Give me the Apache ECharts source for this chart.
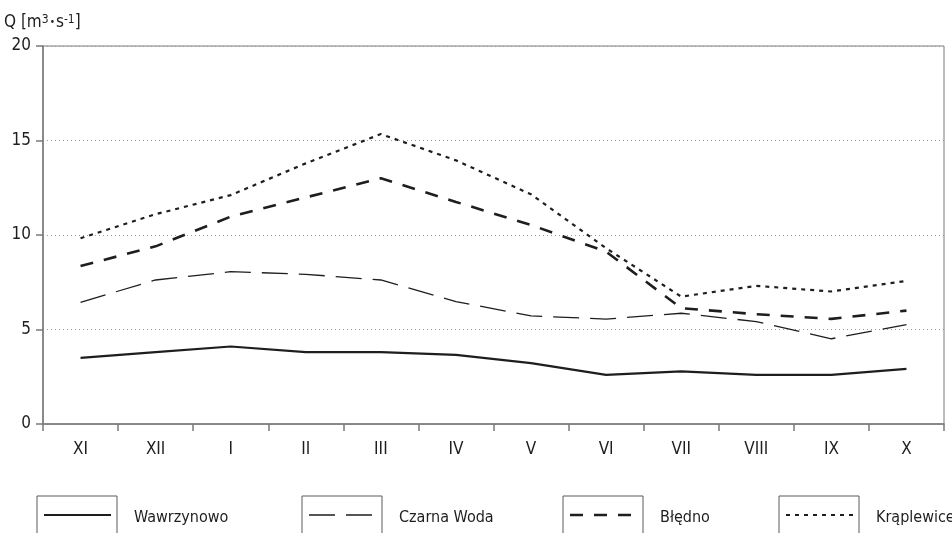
<!DOCTYPE html>
<html>
<head>
<meta charset="utf-8">
<script src="https://cdn.jsdelivr.net/npm/echarts@6/dist/echarts.min.js"></script>
<style>
  html, body { margin: 0; padding: 0; background: #fff; }
  #chart { width: 952px; height: 533px; }
</style>
</head>
<body>
<div id="chart"></div>
<script>
// Monthly mean discharge, hydrological year XI–X
const months = ['XI', 'XII', 'I', 'II', 'III', 'IV', 'V', 'VI', 'VII', 'VIII', 'IX', 'X'];
const stations = ['Wawrzynowo', 'Czarna Woda', 'Błędno', 'Krąplewice'];

const wawrzynowo = [3.5, 3.8, 4.1, 3.8, 3.8, 3.66, 3.22, 2.6, 2.78, 2.6, 2.6, 2.92];
const czarnaWoda = [6.44, 7.62, 8.06, 7.92, 7.62, 6.48, 5.72, 5.55, 5.86, 5.42, 4.51, 5.26];
const bledno     = [8.36, 9.4, 10.97, 11.99, 13.0, 11.75, 10.53, 9.12, 6.13, 5.81, 5.56, 6.0];
const kraplewice = [9.83, 11.1, 12.11, 13.79, 15.34, 13.95, 12.15, 9.3, 6.74, 7.31, 7.01, 7.57];

const yTicks = [0, 5, 10, 15, 20];

const FONT = '"DejaVu Sans Condensed", "Liberation Sans Narrow", "Liberation Sans", sans-serif';
const INK = '#1e1e1e';
const AXIS = '#7a7a7a';

// line look for each station, shared by the series and the legend samples
const styles = [
  { width: 2.2, type: 'solid' },
  { width: 1.3, type: [26, 11] },
  { width: 2.6, type: [13, 11] },
  { width: 2.2, type: [4, 5] }
];

const seriesData = [wawrzynowo, czarnaWoda, bledno, kraplewice];

const series = stations.map((name, i) => ({
  name: name,
  type: 'line',
  data: seriesData[i],
  symbol: 'none',
  smooth: false,
  lineStyle: { color: INK, width: styles[i].width, type: styles[i].type, cap: 'butt' },
  z: 3 + i
}));

// legend: framed line samples along the bottom edge
const legendX = [37, 302, 563, 779];
const graphic = [];
stations.forEach((name, i) => {
  const x = legendX[i];
  graphic.push({
    type: 'rect',
    shape: { x: x, y: 496, width: 80, height: 60 },
    style: { fill: 'none', stroke: '#5a5a5a', lineWidth: 1 },
    silent: true
  });
  graphic.push({
    type: 'line',
    shape: { x1: x + 7, y1: 515, x2: x + 74, y2: 515 },
    style: { stroke: INK, lineWidth: styles[i].width, lineDash: styles[i].type === 'solid' ? null : styles[i].type },
    silent: true
  });
  graphic.push({
    type: 'text',
    x: x + 97,
    y: 518,
    style: { text: name, font: '16px ' + FONT, fill: INK, textVerticalAlign: 'middle' },
    silent: true
  });
});

const chart = echarts.init(document.getElementById('chart'), null, { renderer: 'canvas' });
chart.setOption({
  animation: false,
  backgroundColor: '#fff',
  grid: {
    left: 43, right: 8, top: 46, bottom: 109,
    show: true, borderColor: AXIS, borderWidth: 1, backgroundColor: 'transparent'
  },
  xAxis: {
    type: 'category',
    data: months,
    boundaryGap: true,
    axisLine: { lineStyle: { color: AXIS, width: 1.5 } },
    axisTick: { show: true, length: 7, lineStyle: { color: AXIS, width: 1.5 } },
    axisLabel: { color: INK, fontFamily: FONT, fontSize: 17, margin: 17 },
    splitLine: { show: false }
  },
  yAxis: {
    type: 'value',
    min: yTicks[0],
    max: yTicks[yTicks.length - 1],
    interval: yTicks[1] - yTicks[0],
    name: 'Q [m{sup|3}{dot|•}s{sup|-1}]',
    nameLocation: 'end',
    nameGap: 15,
    nameTextStyle: {
      align: 'left',
      padding: [0, 0, 0, -39],
      color: INK, fontFamily: FONT, fontSize: 17,
      rich: {
        sup: { fontSize: 12, verticalAlign: 'top', color: INK, fontFamily: FONT, padding: [0, 0, 5, 0] },
        dot: { fontSize: 10, color: INK, fontFamily: FONT, padding: [0, 1, 0, 1] }
      }
    },
    axisLine: { show: true, lineStyle: { color: AXIS, width: 1.5 } },
    axisTick: { show: true, length: 7, lineStyle: { color: AXIS, width: 1.5 } },
    axisLabel: { color: INK, fontFamily: FONT, fontSize: 17, margin: 12, padding: [3, 0, 0, 0] },
    splitLine: { show: true, lineStyle: { color: '#9a9a9a', width: 1, type: [1, 3] } }
  },
  legend: { show: false },
  series: series,
  graphic: graphic
});
</script>
</body>
</html>
